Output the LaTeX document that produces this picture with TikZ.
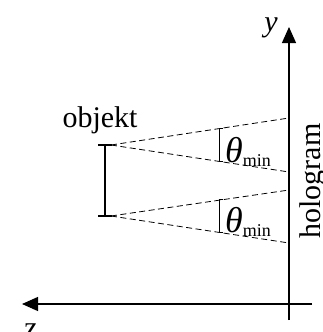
\documentclass[tikz,border=0pt]{standalone}
\usepackage{fontspec}
\setmainfont{Liberation Serif}
\usetikzlibrary{arrows.meta,positioning,calc}

\begin{document}
\begin{tikzpicture}[x=1pt, y=-1pt,
  axis/.style={draw, line width=1.2pt, -{Triangle[length=16pt, width=14pt]}},
  ray/.style={draw, line width=0.8pt, dash pattern=on 6pt off 3.5pt},
  bar/.style={draw, line width=1.3pt},
  tickmark/.style={draw, line width=2.6pt},
  brace/.style={draw, line width=0.9pt},
  lbl/.style={inner sep=0pt, font=\fontsize{30}{36}\selectfont},
  angle/.style={inner sep=0pt, anchor=base west, font=\fontsize{36}{42}\selectfont}]
  \useasboundingbox (0,0) rectangle (322,332);

  % axes
  \coordinate (ybot) at (289,320);
  \coordinate (ytip) at (289,27);
  \coordinate (zend) at (312,304);
  \coordinate (ztip) at (22,304);
  \path [axis] (ybot) -- (ytip);
  \path [axis] (zend) -- (ztip);
  \node [lbl, anchor=base] (ylabel) at (271,31) {\textit{y}};
  \node [lbl, anchor=base] (zlabel) at (31,337) {z};
  \node [lbl, anchor=base, rotate=90] (holo) at (320,181) {hologram};

  % object
  \coordinate (otop) at (105,145);
  \coordinate (obot) at (105,216);
  \path [bar] (otop) -- (obot);
  \path [tickmark] ($(otop)+(-7,0)$) -- ($(otop)+(7,0)$);
  \path [tickmark] ($(obot)+(-7,0)$) -- ($(obot)+(7,0)$);
  \node [lbl, anchor=base] (objlabel) at (100,127) {objekt};

  % rays to the hologram
  \coordinate (h1) at (289,118);
  \coordinate (h2) at (289,172);
  \coordinate (h3) at (289,190);
  \coordinate (h4) at (289,243);
  \path [ray] ($(otop)+(6,0)$) -- (h1);
  \path [ray] ($(otop)+(6,0)$) -- (h2);
  \path [ray] ($(obot)+(6,0)$) -- (h3);
  \path [ray] ($(obot)+(6,0)$) -- (h4);

  % angle marks
  \coordinate (a1) at ($(otop)!0.624!(h1)$);
  \coordinate (a2) at ($(otop)!0.624!(h2)$);
  \coordinate (a3) at ($(obot)!0.624!(h3)$);
  \coordinate (a4) at ($(obot)!0.624!(h4)$);
  \path [brace] ($(a1)+(3,0)$) -- (a1) -- (a2) -- ($(a2)+(3,0)$);
  \path [brace] ($(a3)+(3,0)$) -- (a3) -- (a4) -- ($(a4)+(3,0)$);
  \node [angle] (theta1) at (225,162) {\textit{θ}\raisebox{-4pt}{\fontsize{18}{18}\selectfont min}};
  \node [angle] (theta2) at (225,232) {\textit{θ}\raisebox{-4pt}{\fontsize{18}{18}\selectfont min}};
\end{tikzpicture}
\end{document}
